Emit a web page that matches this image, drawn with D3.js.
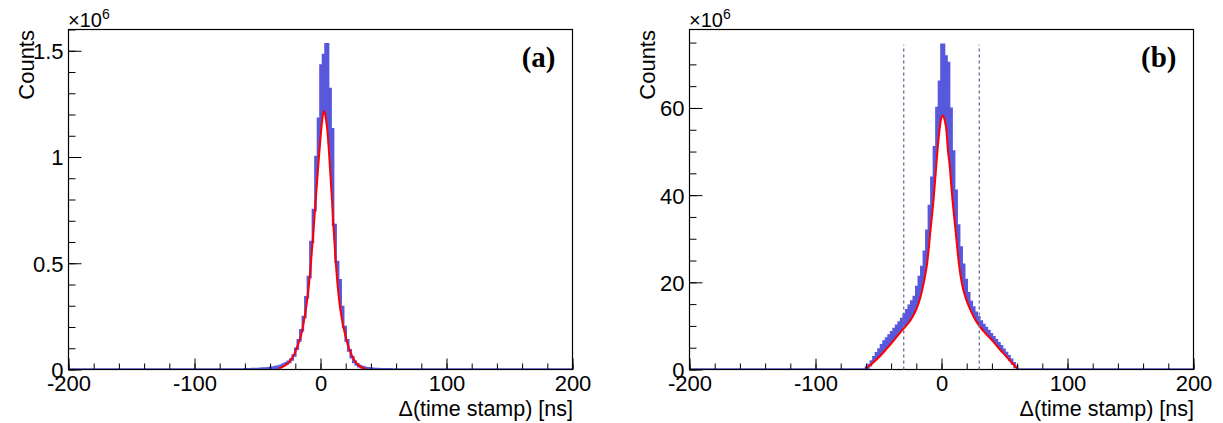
<!DOCTYPE html>
<html>
<head>
<meta charset="utf-8">
<script src="https://cdn.jsdelivr.net/npm/d3@7"></script>
<style>
  body { margin: 0; background: #fff; }
  svg { display: block; }
</style>
</head>
<body>
<svg id="fig" width="1223" height="423"></svg>
<script>
// ---- data -------------------------------------------------------------
// Histogram binning shared by both panels (ns)
const binWidth = 2;
const xDomain = [-200, 200];
const xMajorTicks = [-200, -100, 0, 100, 200];
const xMinorStep = 20;

// Panel (a): counts per 2 ns bin, in units of 10^6, bins starting at firstBinA
const firstBinA = -60;
const countsA = [
  0.001, 0.0012, 0.0015, 0.0018, 0.0022, 0.0027, 0.0033, 0.004, 0.005, 0.006,
  0.0075, 0.009, 0.011, 0.014, 0.018, 0.023, 0.029, 0.036, 0.047, 0.066,
  0.098, 0.137, 0.184, 0.247, 0.34, 0.435, 0.60, 0.75, 1.00, 1.18,
  1.43, 1.48, 1.53, 1.32, 1.13, 0.68, 0.506, 0.42, 0.294, 0.20,
  0.137, 0.09, 0.058, 0.036, 0.024, 0.016, 0.011, 0.008, 0.006, 0.0045,
  0.0035, 0.0027, 0.002, 0.0015, 0.0011, 0.0008, 0.0006, 0.0004, 0.0003, 0.0002
];
// Panel (a): fitted curve [ns, 10^6]
const fitA = [
  [-33, 0.004], [-30, 0.012], [-27, 0.024], [-24, 0.042], [-21, 0.07],
  [-18, 0.115], [-15, 0.17], [-12.5, 0.25], [-10.5, 0.33], [-8, 0.47],
  [-6, 0.62], [-4, 0.78], [-2, 0.94], [0, 1.09], [1.5, 1.18],
  [2.7, 1.217], [4, 1.19], [5.8, 1.10], [7.5, 0.95], [9.2, 0.79],
  [10.6, 0.64], [12.4, 0.48], [14.8, 0.325], [17, 0.235], [19.3, 0.17],
  [22, 0.11], [24.6, 0.07], [27, 0.042], [30, 0.02], [33, 0.009], [36, 0.003]
];
const yDomainA = [0, 1.6];
const yMajorA = [0, 0.5, 1, 1.5];
const yMinorStepA = 0.1;

// Panel (b): counts per 2 ns bin, in units of 10^6, bins starting at firstBinB
const firstBinB = -60;
const countsB = [
  0.4, 1.0, 1.85, 2.8, 3.7, 4.6, 5.55, 6.4, 7.1, 7.8,
  8.55, 9.3, 10.0, 10.75, 11.6, 12.6, 13.6, 14.6, 15.6, 16.6,
  18.9, 21.2, 23.5, 27.0, 31.8, 37.5, 44.0, 51.0, 60.0, 66.0,
  74.5, 71.8, 70.3, 59.8, 50.0, 41.0, 33.0, 28.0, 24.0, 20.5,
  17.5, 15.5, 14.2, 13.0, 12.0, 11.0, 10.2, 9.5, 8.8, 8.1,
  7.4, 6.7, 6.0, 5.3, 4.5, 3.8, 3.0, 2.2, 1.4, 0.6
];
// Panel (b): fitted curve [ns, 10^6]
const fitB = [
  [-59, 0.5], [-55, 1.4], [-49.7, 2.8], [-44, 4.6], [-37.8, 6.7],
  [-31, 9.1], [-24.6, 11.3], [-20, 13.8], [-16.7, 16.6], [-14, 20],
  [-11.4, 24.3], [-8.7, 32], [-6.1, 39.6], [-4, 47.3], [-2.1, 53.6],
  [-0.5, 57.2], [1, 58.2], [2.5, 57.2], [4, 54.5], [5, 50.5],
  [6.3, 47.3], [8.5, 39.6], [11.1, 32], [13.8, 24.3], [16, 20],
  [19, 16.6], [23, 13.6], [27, 11.3], [33, 8.9], [40.2, 6.7],
  [46, 4.7], [52, 2.8], [56, 1.5], [60, 0.3]
];
// Panel (b): selection window edges (ns)
const cutsB = [-30, 30];
const yDomainB = [0, 78];
const yMajorB = [0, 20, 40, 60];
const yMinorStepB = 5;

const panelLabels = ["(a)", "(b)"];
const yTitle = "Counts";
const xTitle = "\u0394(time stamp) [ns]";

// ---- layout & style ---------------------------------------------------
const sans = "'Liberation Sans', Arial, Helvetica, sans-serif";
const serif = "'Liberation Serif', 'Times New Roman', serif";
const histColor = "#5858dc";
const fitColor = "#ff0000";
const cutColor = "#74749a";
const frameTop = 29.5, frameBottom = 369.5;

const panels = [
  { key: "a", left: 68.5, right: 572.5, first: firstBinA, counts: countsA, fit: fitA,
    yDomain: yDomainA, yMajor: yMajorA, yMinorStep: yMinorStepA, label: panelLabels[0], cuts: [] },
  { key: "b", left: 689.5, right: 1193.5, first: firstBinB, counts: countsB, fit: fitB,
    yDomain: yDomainB, yMajor: yMajorB, yMinorStep: yMinorStepB, label: panelLabels[1], cuts: cutsB }
];

const svg = d3.select("#fig");
const defs = svg.append("defs");

function histBins(first, counts) {
  const nb = Math.round((xDomain[1] - xDomain[0]) / binWidth);
  const bins = d3.range(nb).map(i => {
    const lo = xDomain[0] + i * binWidth;
    const j = Math.round((lo - first) / binWidth);
    return [lo, (j >= 0 && j < counts.length) ? counts[j] : 0];
  });
  bins.push([xDomain[1], 0]);
  return bins;
}

panels.forEach(p => {
  const x = d3.scaleLinear().domain(xDomain).range([p.left, p.right]);
  const y = d3.scaleLinear().domain(p.yDomain).range([frameBottom, frameTop]);
  const g = svg.append("g");

  defs.append("clipPath").attr("id", "clip-" + p.key)
    .append("rect")
    .attr("x", p.left).attr("y", frameTop)
    .attr("width", p.right - p.left).attr("height", frameBottom - frameTop);

  const plot = g.append("g").attr("clip-path", `url(#clip-${p.key})`);
  const bins = histBins(p.first, p.counts);

  // histogram body
  plot.append("path")
    .datum(bins)
    .attr("fill", histColor)
    .attr("d", d3.area().curve(d3.curveStepAfter)
      .x(d => x(d[0])).y0(y(0)).y1(d => y(d[1])));

  // region under the fitted curve is left white
  plot.append("path")
    .datum(p.fit)
    .attr("fill", "#fff")
    .attr("d", d3.area().curve(d3.curveMonotoneX)
      .x(d => x(d[0])).y0(y(0)).y1(d => y(d[1])));

  // histogram outline (thick line, its zero level runs along the x axis)
  plot.append("path")
    .datum(bins)
    .attr("fill", "none")
    .attr("stroke", histColor)
    .attr("stroke-width", 2.6)
    .attr("d", d3.line().curve(d3.curveStepAfter).x(d => x(d[0])).y(d => y(d[1])));

  // fitted curve
  plot.append("path")
    .datum(p.fit)
    .attr("fill", "none")
    .attr("stroke", fitColor)
    .attr("stroke-width", 2)
    .attr("d", d3.line().curve(d3.curveMonotoneX)
      .x(d => x(d[0])).y(d => y(d[1])));

  // frame
  g.append("rect")
    .attr("x", p.left).attr("y", frameTop)
    .attr("width", p.right - p.left).attr("height", frameBottom - frameTop)
    .attr("fill", "none").attr("stroke", "#000").attr("stroke-width", 1.2);

  // x axis: minor then major ticks, pointing into the frame
  const xMinor = d3.range(xDomain[0], xDomain[1] + 0.001, xMinorStep);
  const xMin = g.append("g").attr("transform", `translate(0,${frameBottom})`)
    .call(d3.axisBottom(x).tickValues(xMinor).tickSize(-6).tickSizeOuter(0).tickFormat(""));
  xMin.select(".domain").remove();
  const xMaj = g.append("g").attr("transform", `translate(0,${frameBottom})`)
    .call(d3.axisBottom(x).tickValues(xMajorTicks).tickSize(-11).tickSizeOuter(0)
      .tickPadding(6).tickFormat(d => String(d)));
  xMaj.select(".domain").remove();
  xMaj.selectAll("text").attr("font-family", sans).attr("font-size", 22).attr("fill", "#000");

  // y axis
  const yMinor = d3.range(p.yDomain[0], p.yDomain[1] + 1e-9, p.yMinorStep);
  const yMin = g.append("g").attr("transform", `translate(${p.left},0)`)
    .call(d3.axisLeft(y).tickValues(yMinor).tickSize(-7).tickSizeOuter(0).tickFormat(""));
  yMin.select(".domain").remove();
  const yMaj = g.append("g").attr("transform", `translate(${p.left},0)`)
    .call(d3.axisLeft(y).tickValues(p.yMajor).tickSize(-13).tickSizeOuter(0)
      .tickPadding(5).tickFormat(d => String(d)));
  yMaj.select(".domain").remove();
  yMaj.selectAll("text").attr("font-family", sans).attr("font-size", 22)
    .attr("fill", "#000").attr("dy", "0.36em");

  // selection window
  const cutTop = d3.max(p.counts);
  g.selectAll(".cut").data(p.cuts).join("line")
    .attr("class", "cut")
    .attr("x1", d => x(d)).attr("x2", d => x(d))
    .attr("y1", y(0)).attr("y2", y(cutTop))
    .attr("stroke", cutColor).attr("stroke-width", 1.4)
    .attr("stroke-dasharray", "3,3");

  // exponent above the y axis
  const expo = g.append("text")
    .attr("x", p.left - 0.5).attr("y", 26.5)
    .attr("font-family", sans).attr("fill", "#000");
  expo.append("tspan").attr("font-size", 20).text("\u00d710");
  expo.append("tspan").attr("font-size", 14).attr("dy", -8).text("6");

  // axis titles
  g.append("text")
    .attr("transform", `translate(${p.left - 35},${frameTop + 0.5}) rotate(-90)`)
    .attr("text-anchor", "end")
    .attr("font-family", sans).attr("font-size", 22).attr("fill", "#000")
    .text(yTitle);
  g.append("text")
    .attr("x", p.right + 0.5).attr("y", 416)
    .attr("text-anchor", "end")
    .attr("font-family", sans).attr("font-size", 21.5).attr("fill", "#000")
    .text(xTitle);

  // panel tag
  g.append("text")
    .attr("x", p.right - 17).attr("y", 67)
    .attr("text-anchor", "end")
    .attr("font-family", serif).attr("font-weight", "bold")
    .attr("font-size", 29).attr("fill", "#000")
    .text(p.label);
});
</script>
</body>
</html>
